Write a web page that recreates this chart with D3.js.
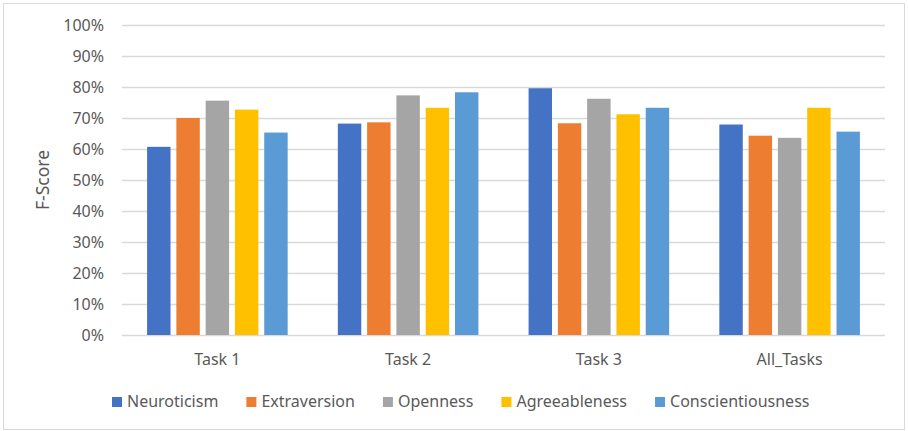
<!DOCTYPE html>
<html>
<head>
<meta charset="utf-8">
<script src="https://cdn.jsdelivr.net/npm/d3@7"></script>
<style>
  body { margin: 0; background: #fff; }
  svg text { font-family: "Noto Sans", sans-serif; fill: #595959; }
</style>
</head>
<body>
<script>
// data
var categories = ["Task 1", "Task 2", "Task 3", "All_Tasks"];
var series = ["Neuroticism", "Extraversion", "Openness", "Agreeableness", "Conscientiousness"];
var colors = ["#4472C4", "#ED7D31", "#A5A5A5", "#FFC000", "#5B9BD5"];
var neuroticism = [0.607, 0.682, 0.796, 0.679];
var extraversion = [0.700, 0.686, 0.683, 0.643];
var openness = [0.756, 0.773, 0.762, 0.636];
var agreeableness = [0.727, 0.733, 0.712, 0.733];
var conscientiousness = [0.653, 0.783, 0.733, 0.656];
var yTicks = [0, 0.1, 0.2, 0.3, 0.4, 0.5, 0.6, 0.7, 0.8, 0.9, 1];

var values = [neuroticism, extraversion, openness, agreeableness, conscientiousness];

var W = 908, H = 431;
var margin = {top: 25, left: 122, right: 23, bottom: 96};
var width = W - margin.left - margin.right,
    height = H - margin.top - margin.bottom;

var svg = d3.select("body").append("svg")
    .attr("width", W)
    .attr("height", H);

// outer frame
svg.append("rect")
    .attr("x", 3.5).attr("y", 3.5)
    .attr("width", W - 7).attr("height", H - 5)
    .attr("fill", "none")
    .attr("stroke", "#d9d9d9");

var g = svg.append("g")
    .attr("transform", `translate(${margin.left}, ${margin.top})`);

var x0 = d3.scaleBand().domain(categories).range([0, width]);
var groupW = x0.bandwidth() * 0.737;
var x1 = d3.scaleBand().domain(series).range([0, groupW]).paddingInner(0.2);
var y = d3.scaleLinear().domain([0, 1]).range([height, 0]);

// grid
g.append("g")
    .selectAll("line")
    .data(yTicks)
    .enter().append("line")
    .attr("x1", 0).attr("x2", width)
    .attr("y1", d => Math.round(y(d)) + 0.5)
    .attr("y2", d => Math.round(y(d)) + 0.5)
    .attr("stroke", "#d9d9d9")
    .attr("stroke-width", 1.3);

// y tick labels
var yAxis = d3.axisLeft(y).tickValues(yTicks).tickFormat(d3.format(".0%")).tickSize(0).tickPadding(18);
var gy = g.append("g").call(yAxis);
gy.select(".domain").remove();
gy.selectAll("text")
    .attr("font-size", 16)
    .attr("fill", "#595959")
    .style("font-family", "Noto Sans");

// x labels
var xAxis = d3.axisBottom(x0).tickSize(0).tickPadding(19);
var gx = g.append("g")
    .attr("transform", `translate(0, ${height})`)
    .call(xAxis);
gx.select(".domain").remove();
gx.selectAll("text")
    .attr("font-size", 16)
    .attr("fill", "#595959")
    .style("font-family", "Noto Sans");

// bars
var groups = g.append("g")
    .selectAll("g")
    .data(categories)
    .enter().append("g")
    .attr("transform", d => `translate(${x0(d) + (x0.bandwidth() - groupW) / 2}, 0)`);

groups.selectAll("rect")
    .data((c, ci) => series.map((s, si) => ({s: s, v: values[si][ci], color: colors[si]})))
    .enter().append("rect")
    .attr("x", d => x1(d.s))
    .attr("y", d => y(d.v))
    .attr("width", x1.bandwidth())
    .attr("height", d => y(0) - y(d.v))
    .attr("fill", d => d.color);

// y axis title
svg.append("text")
    .attr("transform", `translate(49, ${margin.top + height / 2}) rotate(-90)`)
    .attr("text-anchor", "middle")
    .attr("font-size", 17.5)
    .text("F-Score");

// legend
var legend = svg.append("g");
var items = legend.selectAll("g")
    .data(series)
    .enter().append("g");
items.append("rect")
    .attr("width", 10).attr("height", 10)
    .attr("y", -10)
    .attr("fill", (d, i) => colors[i]);
items.append("text")
    .attr("x", 15)
    .attr("font-size", 16)
    .text(d => d);

var xPos = 0;
items.each(function() {
    var w = this.querySelector("text").getComputedTextLength();
    d3.select(this).attr("transform", `translate(${xPos}, 0)`);
    xPos += 15 + w + 28;
});
legend.attr("transform", "translate(112, 407)");
</script>
</body>
</html>
